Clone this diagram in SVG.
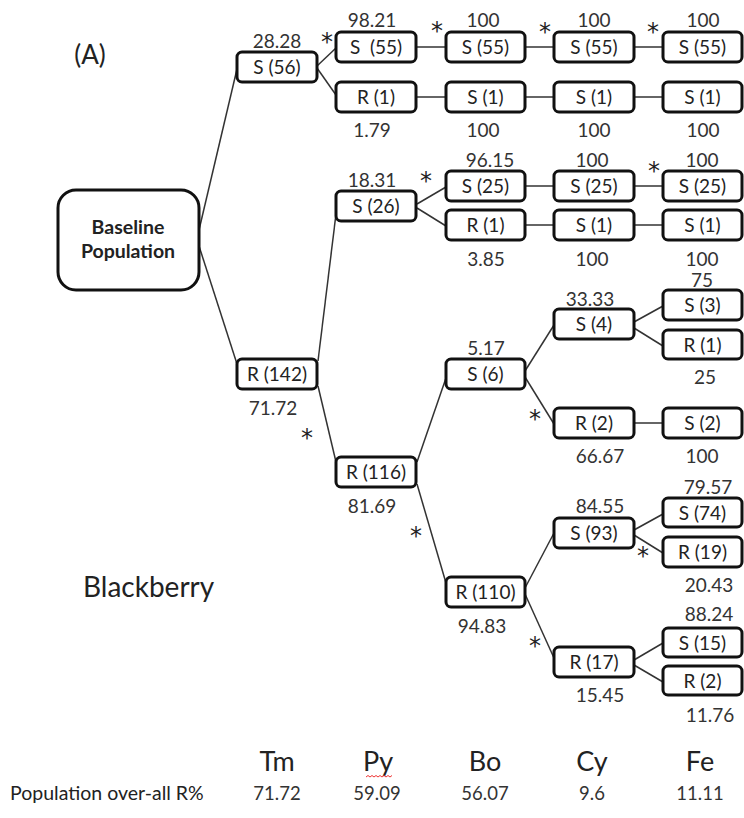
<svg xmlns="http://www.w3.org/2000/svg" width="744" height="818" viewBox="0 0 744 818">
<style>
.b{fill:#fff;stroke:#111;stroke-width:3}
.t{font-family:Lato,"Liberation Sans",sans-serif;font-size:19px;fill:#222;text-anchor:middle;white-space:pre}
.n{font-family:Lato,"Liberation Sans",sans-serif;font-size:19px;fill:#333;text-anchor:middle}
.s{font-family:"DejaVu Sans",sans-serif;font-size:24px;fill:#222;text-anchor:middle}
.big{font-family:Lato,"Liberation Sans",sans-serif;fill:#222}
.c line{stroke:#333;stroke-width:1.5}
</style>
<rect width="744" height="818" fill="#fff"/>
<text class="big" x="90" y="64" font-size="26" text-anchor="middle">(A)</text>
<text class="big" x="83" y="597" font-size="28">Blackberry</text>

<g id="connectors" class="c">
<line x1="199" y1="230" x2="237" y2="69"/>
<line x1="199" y1="246" x2="237" y2="364"/>
<line x1="317" y1="66" x2="336" y2="48"/>
<line x1="317" y1="68" x2="336" y2="95"/>
<line x1="318" y1="361" x2="336" y2="214"/>
<line x1="318" y1="386" x2="336" y2="462"/>
<line x1="416" y1="47" x2="663" y2="47"/>
<line x1="416" y1="97" x2="663" y2="97"/>
<line x1="417" y1="204" x2="446" y2="187"/>
<line x1="417" y1="208" x2="446" y2="226"/>
<line x1="525" y1="186" x2="663" y2="186"/>
<line x1="525" y1="225" x2="663" y2="225"/>
<line x1="417" y1="462" x2="446" y2="378"/>
<line x1="417" y1="484" x2="446" y2="583"/>
<line x1="525" y1="371" x2="554" y2="325"/>
<line x1="525" y1="377" x2="554" y2="424"/>
<line x1="634" y1="423" x2="663" y2="423"/>
<line x1="525" y1="588" x2="554" y2="533"/>
<line x1="525" y1="594" x2="554" y2="658"/>
<line x1="634" y1="322" x2="663" y2="306"/>
<line x1="634" y1="328" x2="663" y2="346"/>
<line x1="634" y1="530" x2="663" y2="514"/>
<line x1="634" y1="535" x2="663" y2="553"/>
<line x1="634" y1="660" x2="663" y2="643"/>
<line x1="634" y1="665" x2="663" y2="682"/>
</g>

<g id="baseline"><rect class="b" x="58" y="190" width="141" height="100" rx="18"/>
<text class="t" x="128" y="234" style="font-weight:bold;font-size:19.5px">Baseline</text>
<text class="t" x="128" y="258" style="font-weight:bold;font-size:19.5px">Population</text></g>

<g id="tm-s56"><rect class="b" x="237" y="52" width="80" height="30" rx="5"/><text class="t" x="277" y="74">S (56)</text></g>
<g id="tm-r142"><rect class="b" x="237" y="359" width="80" height="30" rx="5"/><text class="t" x="277" y="381">R (142)</text></g>

<g id="py-s55"><rect class="b" x="336" y="32" width="80" height="30" rx="5"/><text class="t" x="376" y="54">S  (55)</text></g>
<g id="py-r1"><rect class="b" x="336" y="82" width="80" height="30" rx="5"/><text class="t" x="376" y="104">R (1)</text></g>
<g id="py-s26"><rect class="b" x="336" y="191" width="80" height="30" rx="5"/><text class="t" x="376" y="213">S (26)</text></g>
<g id="py-r116"><rect class="b" x="336" y="457" width="80" height="30" rx="5"/><text class="t" x="376" y="479">R (116)</text></g>

<g id="bo-s55"><rect class="b" x="446" y="32" width="79" height="30" rx="5"/><text class="t" x="485.5" y="54">S (55)</text></g>
<g id="bo-s1"><rect class="b" x="446" y="82" width="79" height="30" rx="5"/><text class="t" x="485.5" y="104">S (1)</text></g>
<g id="bo-s25"><rect class="b" x="446" y="171" width="79" height="30" rx="5"/><text class="t" x="485.5" y="193">S (25)</text></g>
<g id="bo-r1"><rect class="b" x="446" y="210" width="79" height="30" rx="5"/><text class="t" x="485.5" y="232">R (1)</text></g>
<g id="bo-s6"><rect class="b" x="446" y="359" width="79" height="30" rx="5"/><text class="t" x="485.5" y="381">S (6)</text></g>
<g id="bo-r110"><rect class="b" x="446" y="577" width="79" height="30" rx="5"/><text class="t" x="485.5" y="599">R (110)</text></g>

<g id="cy-s55"><rect class="b" x="554" y="32" width="80" height="30" rx="5"/><text class="t" x="594" y="54">S (55)</text></g>
<g id="cy-s1a"><rect class="b" x="554" y="82" width="80" height="30" rx="5"/><text class="t" x="594" y="104">S (1)</text></g>
<g id="cy-s25"><rect class="b" x="554" y="171" width="80" height="30" rx="5"/><text class="t" x="594" y="193">S (25)</text></g>
<g id="cy-s1b"><rect class="b" x="554" y="210" width="80" height="30" rx="5"/><text class="t" x="594" y="232">S (1)</text></g>
<g id="cy-s4"><rect class="b" x="554" y="309" width="80" height="30" rx="5"/><text class="t" x="594" y="331">S (4)</text></g>
<g id="cy-r2"><rect class="b" x="554" y="408" width="80" height="30" rx="5"/><text class="t" x="594" y="430">R (2)</text></g>
<g id="cy-s93"><rect class="b" x="554" y="518" width="80" height="30" rx="5"/><text class="t" x="594" y="540">S (93)</text></g>
<g id="cy-r17"><rect class="b" x="554" y="647" width="80" height="30" rx="5"/><text class="t" x="594" y="669">R (17)</text></g>

<g id="fe-s55"><rect class="b" x="663" y="32" width="79" height="30" rx="5"/><text class="t" x="702.5" y="54">S (55)</text></g>
<g id="fe-s1a"><rect class="b" x="663" y="82" width="79" height="30" rx="5"/><text class="t" x="702.5" y="104">S (1)</text></g>
<g id="fe-s25"><rect class="b" x="663" y="171" width="79" height="30" rx="5"/><text class="t" x="702.5" y="193">S (25)</text></g>
<g id="fe-s1b"><rect class="b" x="663" y="210" width="79" height="30" rx="5"/><text class="t" x="702.5" y="232">S (1)</text></g>
<g id="fe-s3"><rect class="b" x="663" y="290" width="79" height="30" rx="5"/><text class="t" x="702.5" y="312">S (3)</text></g>
<g id="fe-r1"><rect class="b" x="663" y="330" width="79" height="29" rx="5"/><text class="t" x="702.5" y="351.5">R (1)</text></g>
<g id="fe-s2"><rect class="b" x="663" y="408" width="79" height="30" rx="5"/><text class="t" x="702.5" y="430">S (2)</text></g>
<g id="fe-s74"><rect class="b" x="663" y="498" width="79" height="29" rx="5"/><text class="t" x="702.5" y="519.5">S (74)</text></g>
<g id="fe-r19"><rect class="b" x="663" y="537" width="79" height="30" rx="5"/><text class="t" x="702.5" y="559">R (19)</text></g>
<g id="fe-s15"><rect class="b" x="663" y="628" width="79" height="29" rx="5"/><text class="t" x="702.5" y="649.5">S (15)</text></g>
<g id="fe-r2"><rect class="b" x="663" y="666" width="79" height="29" rx="5"/><text class="t" x="702.5" y="687.5">R (2)</text></g>

<g id="values">
<text class="n" x="277" y="48">28.28</text>
<text class="n" x="372" y="27">98.21</text>
<text class="n" x="483" y="27">100</text>
<text class="n" x="594" y="27">100</text>
<text class="n" x="703" y="27">100</text>
<text class="n" x="372" y="137">1.79</text>
<text class="n" x="483" y="137">100</text>
<text class="n" x="594" y="137">100</text>
<text class="n" x="703" y="137">100</text>
<text class="n" x="372" y="187">18.31</text>
<text class="n" x="490" y="167">96.15</text>
<text class="n" x="592" y="167">100</text>
<text class="n" x="702" y="167">100</text>
<text class="n" x="486" y="266">3.85</text>
<text class="n" x="592" y="266">100</text>
<text class="n" x="702" y="266">100</text>
<text class="n" x="702" y="287">75</text>
<text class="n" x="590" y="306">33.33</text>
<text class="n" x="273" y="415">71.72</text>
<text class="n" x="486" y="355">5.17</text>
<text class="n" x="705" y="384">25</text>
<text class="n" x="600" y="463">66.67</text>
<text class="n" x="702" y="463">100</text>
<text class="n" x="708" y="494">79.57</text>
<text class="n" x="372" y="513">81.69</text>
<text class="n" x="600" y="513">84.55</text>
<text class="n" x="709" y="592">20.43</text>
<text class="n" x="709" y="621">88.24</text>
<text class="n" x="482" y="633">94.83</text>
<text class="n" x="600" y="702">15.45</text>
<text class="n" x="710" y="722">11.76</text>
</g>

<g id="stars">
<text class="s" x="327" y="50">*</text>
<text class="s" x="437" y="39">*</text>
<text class="s" x="545" y="40">*</text>
<text class="s" x="653" y="40">*</text>
<text class="s" x="426" y="189">*</text>
<text class="s" x="654" y="179">*</text>
<text class="s" x="307" y="446">*</text>
<text class="s" x="416" y="544">*</text>
<text class="s" x="535" y="427">*</text>
<text class="s" x="643" y="564">*</text>
<text class="s" x="535" y="654">*</text>
</g>

<g id="axis">
<text class="big" x="277" y="771" font-size="27" text-anchor="middle">Tm</text>
<text class="big" x="378" y="771" font-size="27" text-anchor="middle">Py</text>
<text class="big" x="485" y="771" font-size="27" text-anchor="middle">Bo</text>
<text class="big" x="592" y="771" font-size="27" text-anchor="middle">Cy</text>
<text class="big" x="700" y="771" font-size="27" text-anchor="middle">Fe</text>
<path d="M366 777 l2 -1.5 l2 1.5 l2 -1.5 l2 1.5 l2 -1.5 l2 1.5 l2 -1.5 l2 1.5 l2 -1.5 l2 1.5 l2 -1.5 l2 1.5 l2 -1.5" fill="none" stroke="#e33" stroke-width="1"/>
<text class="big" x="10" y="800" style="font-size:19.5px">Population over-all R%</text>
<text class="n" x="277" y="800" style="font-size:18.5px">71.72</text>
<text class="n" x="377" y="800" style="font-size:18.5px">59.09</text>
<text class="n" x="485" y="800" style="font-size:18.5px">56.07</text>
<text class="n" x="592" y="800" style="font-size:18.5px">9.6</text>
<text class="n" x="700" y="800" style="font-size:18.5px">11.11</text>
</g>
</svg>
